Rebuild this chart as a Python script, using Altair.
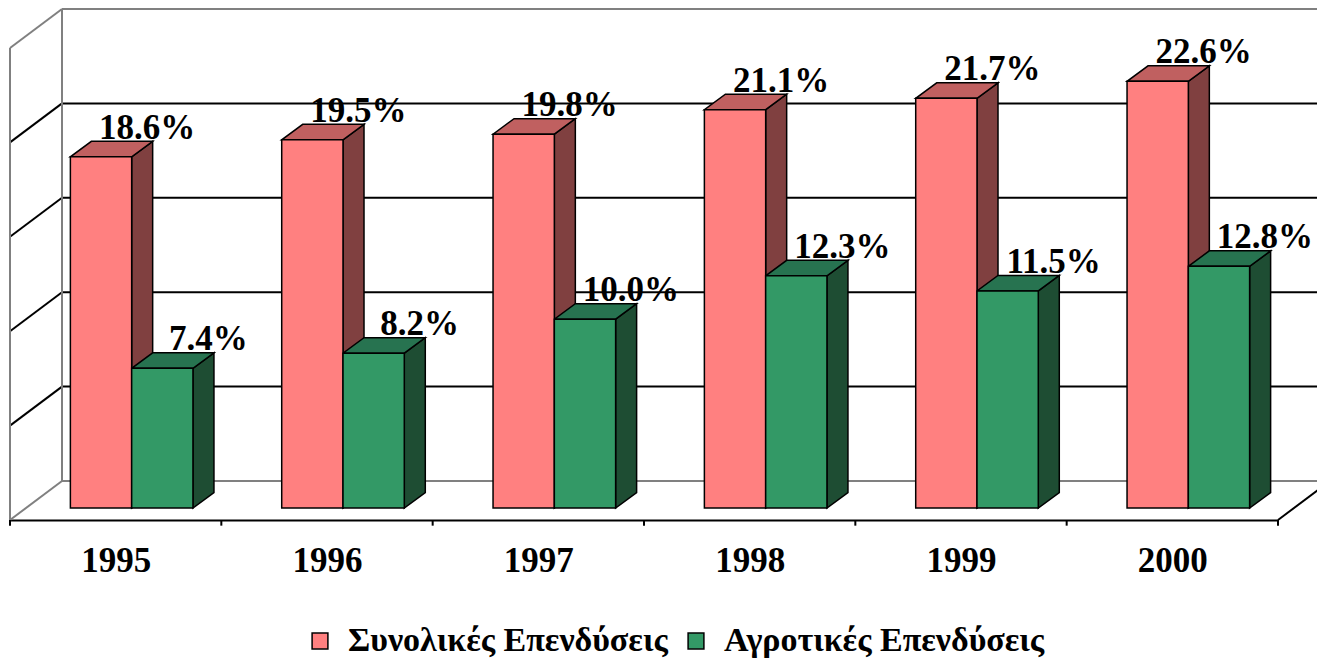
import json
import altair as alt
import pandas as pd

# ---------------- data ----------------
years = ["1995", "1996", "1997", "1998", "1999", "2000"]
total_inv = [18.6, 19.5, 19.8, 21.1, 21.7, 22.6]
agri_inv = [7.4, 8.2, 10.0, 12.3, 11.5, 12.8]
series_names = ["Συνολικές Επενδύσεις", "Αγροτικές Επενδύσεις"]
grid_values = [0, 5, 10, 15, 20, 25]

# ---------------- style ----------------
front_colors = ["#FF8080", "#339966"]
top_colors = ["#C06060", "#277350"]
side_colors = ["#804040", "#1E4D33"]
FONT = "Liberation Serif"

W, H = 1268, 472
YMAX = grid_values[-1]
NCAT = len(years)
ux = NCAT / W      # x data units per pixel
uy = YMAX / H      # y data units per pixel

BACK_DX, BACK_DY = 52 * ux, 39 * uy     # depth of the back wall
BAR_DX, BAR_DY = 16 * ux, 12 * uy       # bar front plane depth
DEP_DX, DEP_DY = 21 * ux, 15.5 * uy     # bar depth
bar_edges = [(0.21, 0.5), (0.5, 0.79)]

# ---------------- geometry tables (built from the values) ----------------
front_rows, side_rows, top_rows, label_rows = [], [], [], []
for s, vals in enumerate([total_inv, agri_inv]):
    l, r = bar_edges[s]
    for i, v in enumerate(vals):
        bid = f"{s}-{i}"
        x0, x1 = i + l + BAR_DX, i + r + BAR_DX
        y0, y1 = BAR_DY, v + BAR_DY
        front_rows.append(dict(x0=x0, x1=x1, y0=y0, y1=y1, series=series_names[s]))
        side_rows += [
            dict(s=s, bid=bid, x=x1, lo=y0, hi=y1),
            dict(s=s, bid=bid, x=x1 + DEP_DX, lo=y0 + DEP_DY, hi=y1 + DEP_DY),
        ]
        top_rows += [
            dict(s=s, bid=bid, y=y1, lo=x0, hi=x1),
            dict(s=s, bid=bid, y=y1 + DEP_DY, lo=x0 + DEP_DX, hi=x1 + DEP_DX),
        ]
        label_rows.append(dict(x=(x0 + x1) / 2, y=y1, text=f"{v:.1f}%"))

wall_rows = []
GREY, BLACK = "#808080", "#000000"
for g in grid_values:
    c = GREY if g in (grid_values[0], grid_values[-1]) else BLACK
    wall_rows.append(dict(x=BACK_DX, x2=NCAT + BACK_DX, y=g + BACK_DY, y2=g + BACK_DY, col=c))
    wall_rows.append(dict(x=0, x2=BACK_DX, y=g, y2=g + BACK_DY, col=c))
wall_rows.append(dict(x=0, x2=0, y=0, y2=YMAX, col=GREY))
wall_rows.append(dict(x=BACK_DX, x2=BACK_DX, y=BACK_DY, y2=YMAX + BACK_DY, col=GREY))
wall_rows.append(dict(x=NCAT, x2=NCAT + BACK_DX, y=0, y2=BACK_DY, col=BLACK))

tick_rows = [dict(x=i, y=0, y2=-0.3) for i in range(NCAT + 1)]

front_df = pd.DataFrame(front_rows)
side_df = pd.DataFrame(side_rows)
top_df = pd.DataFrame(top_rows)
label_df = pd.DataFrame(label_rows)
wall_df = pd.DataFrame(wall_rows)
tick_df = pd.DataFrame(tick_rows)

# ---------------- scales / axes ----------------
xs = alt.Scale(domain=[0, NCAT], nice=False, zero=False)
ys = alt.Scale(domain=[0, YMAX], nice=False, zero=False)
x_axis = alt.Axis(
    values=[i + 0.5 for i in range(NCAT)],
    labelExpr=f"{json.dumps(years)}[floor(datum.value)]",
    title=None, ticks=False, tickSize=0, grid=False,
    domainColor="black", domainWidth=2,
    labelFont=FONT, labelFontWeight="bold", labelFontSize=35, labelColor="black",
    labelPadding=23, labelFlush=False, labelOverlap=False,
)


def X(field, **kw):
    return alt.X(field, type="quantitative", scale=xs, axis=x_axis, **kw)


def Y(field, **kw):
    return alt.Y(field, type="quantitative", scale=ys, axis=None, **kw)


walls = alt.Chart(wall_df).mark_rule(strokeWidth=2).encode(
    x=X("x"), x2="x2", y=Y("y"), y2="y2", stroke=alt.Stroke("col:N", scale=None)
)

ticks = alt.Chart(tick_df).mark_rule(strokeWidth=2, color="black").encode(
    x=X("x"), y=Y("y"), y2="y2"
)

side_layers = [
    alt.Chart(side_df[side_df.s == s]).mark_area(
        orient="vertical", stroke="black", strokeWidth=1.5, opacity=1,
        fill=side_colors[s],
    ).encode(x=X("x"), y=Y("hi", stack=None), y2="lo", detail="bid:N")
    for s in range(2)
]

top_layers = [
    alt.Chart(top_df[top_df.s == s]).mark_area(
        orient="horizontal", stroke="black", strokeWidth=1.5, opacity=1,
        fill=top_colors[s],
    ).encode(y=Y("y"), x=X("hi", stack=None), x2="lo", detail="bid:N")
    for s in range(2)
]

fronts = alt.Chart(front_df).mark_rect(stroke="black", strokeWidth=1.5).encode(
    x=X("x0"), x2="x1", y=Y("y0"), y2="y1",
    fill=alt.Fill(
        "series:N",
        scale=alt.Scale(domain=series_names, range=front_colors),
        sort=series_names,
        legend=alt.Legend(orient="none", legendX=293, legendY=576,
                          direction="horizontal", title=None),
    ),
)

labels = alt.Chart(label_df).mark_text(
    font=FONT, fontWeight="bold", fontSize=35, color="black",
    align="center", baseline="alphabetic", dx=46, dy=-18,
).encode(x=X("x"), y=Y("y"), text="text:N")

chart = (
    alt.layer(walls, ticks, *side_layers, *top_layers, fronts, labels)
    .properties(
        width=W, height=H,
        padding={"left": 2, "top": 40, "right": 39, "bottom": 138},
        autosize=alt.AutoSizeParams(type="none"),
        background="white",
    )
    .configure_view(stroke=None)
    .configure_legend(
        labelFont=FONT, labelFontWeight="bold", labelFontSize=34,
        labelColor="black", labelLimit=800, labelOffset=11,
        symbolType="square", symbolSize=250, symbolStrokeColor="black",
        symbolStrokeWidth=1.5, symbolOpacity=1, columnPadding=11,
    )
)

chart.save("out.html", embed_options={"renderer": "svg", "actions": False})
